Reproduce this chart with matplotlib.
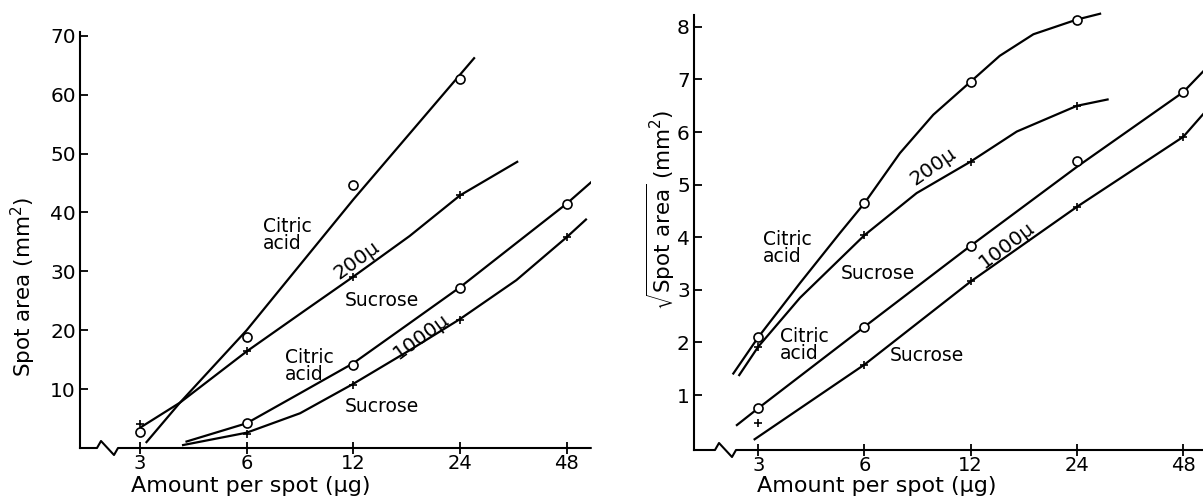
import numpy as np
import matplotlib
matplotlib.use("Agg")
import matplotlib.pyplot as plt

plt.rcParams["font.family"] = ["DejaVu Sans"]
plt.rcParams["mathtext.fontset"] = "dejavusans"

# ---- left panel: spot area (mm^2) ----
amounts = [3, 6, 12, 24, 48]

ca200_pts = [2.8, 18.9, 44.7, 62.6]          # citric acid, 200 mu (circles)
su200_pts = [4.1, 16.4, 29.1, 42.9]          # sucrose, 200 mu (crosses)
ca1000_pts = [4.2, 14.1, 27.2, 41.5]         # citric acid, 1000 mu at 6..48
su1000_pts = [2.4, 10.7, 21.7, 35.8]         # sucrose, 1000 mu at 6..48

# hand drawn curves
ca200_cx = [3.13, 3.89, 6.0, 12.0, 26.3]
ca200_cy = [1.0, 7.7, 20.0, 42.2, 66.2]
su200_cx = [3.03, 3.89, 6.0, 8.83, 12.0, 17.3, 24.0, 34.8]
su200_cy = [3.6, 7.7, 16.4, 23.5, 29.1, 36.0, 42.9, 48.6]
ca1000_cx = [4.06, 6.0, 8.49, 12.0, 17.3, 24.0, 34.6, 48.0, 57.4]
ca1000_cy = [1.1, 4.2, 9.3, 14.4, 21.2, 27.3, 34.8, 41.5, 45.6]
su1000_cx = [3.97, 6.0, 8.49, 12.0, 17.3, 24.0, 34.6, 48.0, 54.4]
su1000_cy = [0.5, 2.6, 5.9, 10.9, 16.6, 21.9, 28.5, 35.8, 38.8]

# ---- right panel: sqrt(spot area) ----
rca200_pts = [2.10, 4.65, 6.96, 8.14]
rsu200_pts = [1.92, 4.04, 5.44, 6.50]
rca1000_pts = [0.75, 2.30, 3.84, 5.45, 6.76]
rsu1000_pts = [0.47, 1.58, 3.16, 4.58, 5.91]

rca200_cx = [2.55, 3.0, 3.94, 5.11, 6.0, 7.56, 9.4, 12.0, 14.5, 18.06, 24.0, 27.9]
rca200_cy = [1.41, 2.10, 3.13, 4.08, 4.65, 5.60, 6.33, 6.96, 7.45, 7.86, 8.14, 8.25]
rsu200_cx = [2.65, 3.0, 3.94, 6.0, 8.43, 12.0, 16.2, 24.0, 29.3]
rsu200_cy = [1.38, 1.92, 2.85, 4.04, 4.84, 5.44, 6.01, 6.50, 6.62]
rca1000_cx = [2.61, 3.0, 6.0, 12.0, 24.0, 48.0, 54.6]
rca1000_cy = [0.43, 0.75, 2.30, 3.84, 5.34, 6.76, 7.15]
rsu1000_cx = [2.93, 6.0, 12.0, 24.0, 48.0, 54.8]
rsu1000_cy = [0.16, 1.58, 3.16, 4.58, 5.91, 6.35]

W, H = 1203, 496
fig = plt.figure(figsize=(W / 100, H / 100), dpi=100)
ax1 = fig.add_axes([80 / W, 48 / H, 510.7 / W, 416.3 / H])
ax2 = fig.add_axes([694 / W, 46 / H, 509 / W, 435 / H])

lw = 1.6
circ = dict(marker="o", ms=6.5, mfc="white", mec="black", mew=1.2, ls="none", zorder=3)
plus = dict(marker="+", ms=6, mec="black", mew=1.2, ls="none", zorder=3)


def setup(ax, xlim, ylim, yticks, zig):
    ax.set_xscale("log", base=2)
    ax.set_xlim(*xlim)
    ax.set_ylim(*ylim)
    ax.set_xticks(amounts)
    ax.set_xticklabels([str(a) for a in amounts])
    ax.minorticks_off()
    ax.set_yticks(yticks)
    for s in ["top", "right", "bottom"]:
        ax.spines[s].set_visible(False)
    ax.spines["left"].set_linewidth(1.5)
    ax.tick_params(axis="y", direction="in", length=6, width=1.3, labelsize=14.5, pad=3)
    ax.tick_params(axis="x", direction="inout", length=8, width=1.3, labelsize=14, pad=0)
    # broken x axis line with zig-zag
    bw, bh = ax.bbox.width, ax.bbox.height
    zx = [0, zig, zig + 4, zig + 17, zig + 21, bw]
    zy = [0, 0, 7, -7, 0, 0]
    ax.plot(np.array(zx) / bw, np.array(zy) / bh, color="black", lw=1.5,
            transform=ax.transAxes, clip_on=False)


setup(ax1, (2.032, 56.1), (0, 70.7), [10, 20, 30, 40, 50, 60, 70], 17)
setup(ax2, (1.973, 54.6), (-0.044, 8.226), [1, 2, 3, 4, 5, 6, 7, 8], 21)

# left panel curves
for cx, cy in [(ca200_cx, ca200_cy), (su200_cx, su200_cy),
               (ca1000_cx, ca1000_cy), (su1000_cx, su1000_cy)]:
    ax1.plot(cx, cy, color="black", lw=lw)
ax1.plot(amounts[:4], ca200_pts, **circ)
ax1.plot(amounts[:4], su200_pts, **plus)
ax1.plot(amounts[1:], ca1000_pts, **circ)
ax1.plot(amounts[1:], su1000_pts, **plus)

# right panel curves
for cx, cy in [(rca200_cx, rca200_cy), (rsu200_cx, rsu200_cy),
               (rca1000_cx, rca1000_cy), (rsu1000_cx, rsu1000_cy)]:
    ax2.plot(cx, cy, color="black", lw=lw, clip_on=False)
ax2.plot(amounts[:4], rca200_pts, **circ)
ax2.plot(amounts[:4], rsu200_pts, **plus)
ax2.plot(amounts, rca1000_pts, **circ)
ax2.plot(amounts, rsu1000_pts, **plus)

fs = 13.5
ax1.text(6.67, 36.2, "Citric\nacid", fontsize=fs, ha="left", va="center", linespacing=0.85)
ax1.text(12.26, 31.9, "200µ", fontsize=fs + 1, ha="center", va="center", rotation=36)
ax1.text(14.4, 25.1, "Sucrose", fontsize=fs, ha="center", va="center")
ax1.text(7.7, 13.9, "Citric\nacid", fontsize=fs, ha="left", va="center", linespacing=0.85)
ax1.text(18.7, 18.9, "1000µ", fontsize=fs + 1, ha="center", va="center", rotation=36)
ax1.text(14.4, 7.0, "Sucrose", fontsize=fs, ha="center", va="center")

ax2.text(3.09, 3.79, "Citric\nacid", fontsize=fs, ha="left", va="center", linespacing=0.85)
ax2.text(6.53, 3.32, "Sucrose", fontsize=fs, ha="center", va="center")
ax2.text(9.4, 5.34, "200µ", fontsize=fs + 1, ha="center", va="center", rotation=35)
ax2.text(3.46, 1.95, "Citric\nacid", fontsize=fs, ha="left", va="center", linespacing=0.85)
ax2.text(9.0, 1.76, "Sucrose", fontsize=fs, ha="center", va="center")
ax2.text(15.2, 3.85, "1000µ", fontsize=fs + 1, ha="center", va="center", rotation=37)

fig.text(23 / W, 1 - 287 / H, "Spot area (mm$^2$)", fontsize=15.5, rotation=90,
         ha="center", va="center")
fig.text(251 / W, 1 - 492 / H, "Amount per spot (µg)", fontsize=16, ha="center",
         va="baseline")
fig.text(661 / W, 1 - 210 / H, r"$\sqrt{\mathrm{Spot\ area}}$ (mm$^2$)", fontsize=15.5,
         rotation=90, ha="center", va="center")
fig.text(877 / W, 1 - 492 / H, "Amount per spot (µg)", fontsize=16, ha="center",
         va="baseline")

fig.savefig("out.png", dpi=100)
